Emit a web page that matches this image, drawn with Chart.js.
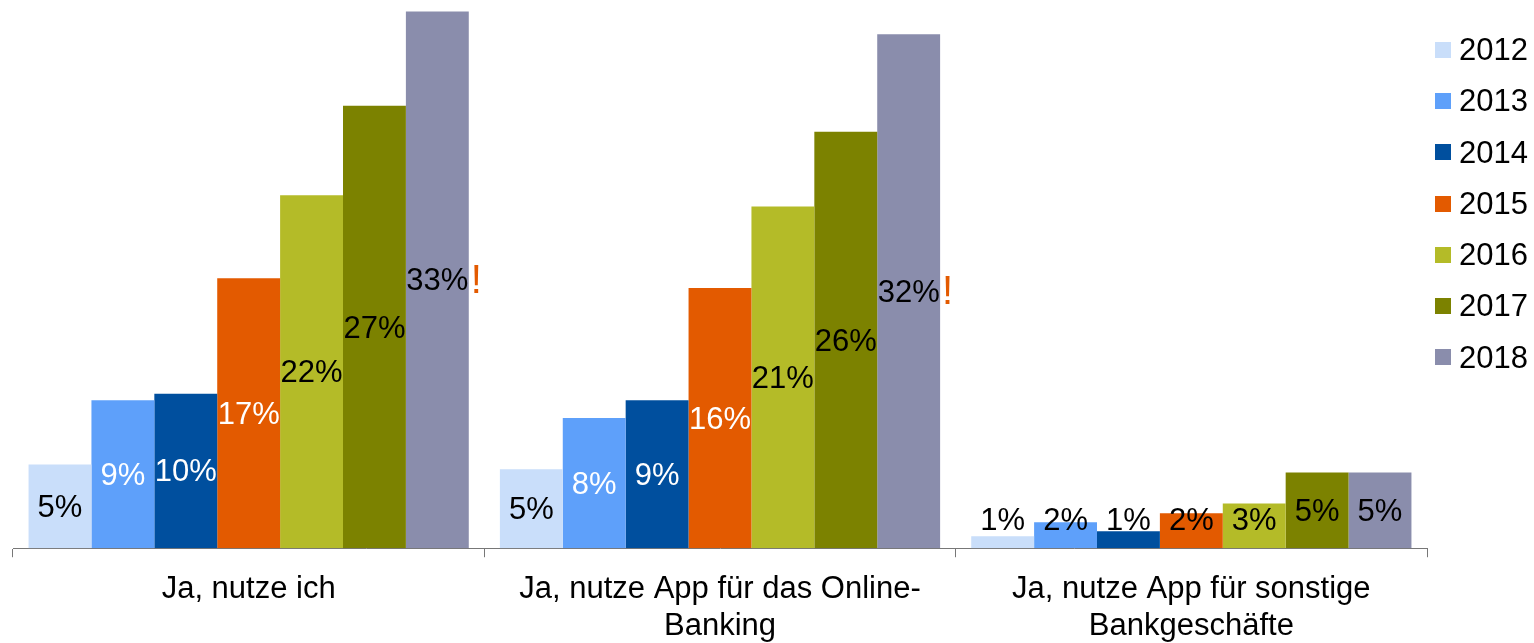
<!DOCTYPE html>
<html>
<head>
<meta charset="utf-8">
<script src="https://cdn.jsdelivr.net/npm/chart.js@4"></script>
<style>
  html, body { margin: 0; padding: 0; background: #fff; overflow: hidden; }
  #wrap { position: relative; width: 1534px; height: 643px; overflow: hidden; }
  #legend { position: absolute; left: 1435px; top: 24px; font-family: "Liberation Sans", Arial, sans-serif; font-size: 31px; color: #000; }
  .legend-item { height: 51.3px; line-height: 51.3px; display: flex; align-items: center; }
  .legend-box { width: 16px; height: 16px; margin-right: 8px; }
</style>
</head>
<body>
<div id="wrap">
  <canvas id="chart" width="1534" height="659"></canvas>
  <div id="legend"></div>
</div>
<script>
const categories = [
  ["Ja, nutze ich"],
  ["Ja, nutze App für das Online-", "Banking"],
  ["Ja, nutze App für sonstige", "Bankgeschäfte"],
];

const years = ["2012", "2013", "2014", "2015", "2016", "2017", "2018"];

const values2012 = [5.15, 4.85, 0.74];
const values2013 = [9.1, 8.0, 1.6];
const values2014 = [9.5, 9.1, 1.05];
const values2015 = [16.6, 16.0, 2.15];
const values2016 = [21.7, 21.0, 2.75];
const values2017 = [27.2, 25.6, 4.65];
const values2018 = [33.0, 31.6, 4.65];

const seriesValues = [values2012, values2013, values2014, values2015, values2016, values2017, values2018];

const colors = ["#C9DEFA", "#5EA0FA", "#004F9E", "#E35A00", "#B4BB28", "#7C8200", "#8A8DAC"];

// white label text for the darker bars
const whiteLabelYears = ["2013", "2014", "2015"];

// orange "!" after the 2018 bar
const exclamation = [true, true, false];

const FONT = '"Liberation Sans", Arial, sans-serif';

const labelPlugin = {
  id: "barLabels",
  afterDatasetsDraw(chart) {
    const ctx = chart.ctx;
    ctx.save();
    ctx.textAlign = "center";
    ctx.textBaseline = "middle";

    chart.data.datasets.forEach((dataset, i) => {
      const meta = chart.getDatasetMeta(i);
      meta.data.forEach((bar, j) => {
        const value = dataset.data[j];
        const center = (bar.y + bar.base) / 2 + 2;
        const y = Math.min(center, bar.base - 27);
        const inside = value > 4;

        ctx.font = "31px " + FONT;
        ctx.fillStyle =
          inside && whiteLabelYears.includes(dataset.label) ? "#FFFFFF" : "#000000";
        ctx.fillText(Math.round(value) + "%", bar.x, y);

        if (i === seriesValues.length - 1 && exclamation[j]) {
          ctx.font = "40px " + FONT;
          ctx.fillStyle = "#E35A00";
          ctx.textAlign = "left";
          ctx.fillText("!", bar.x + bar.width / 2 + 2, y);
          ctx.textAlign = "center";
        }
      });
    });

    ctx.restore();
  },
};

new Chart(document.getElementById("chart"), {
  type: "bar",
  data: {
    labels: categories,
    datasets: years.map((year, i) => ({
      label: year,
      data: seriesValues[i],
      backgroundColor: colors[i],
      borderWidth: 0,
      barPercentage: 1,
      categoryPercentage: 0.934,
    })),
  },
  options: {
    responsive: false,
    animation: false,
    layout: {
      padding: { left: 13, right: 107, top: 0, bottom: 0 },
    },
    scales: {
      x: {
        grid: {
          offset: true,
          drawOnChartArea: false,
          drawTicks: true,
          tickLength: 9,
          color: "#777777",
        },
        border: { display: true, color: "#777777", width: 1 },
        ticks: {
          color: "#000000",
          padding: 14,
          maxRotation: 0,
          autoSkip: false,
          font: { family: FONT, size: 31, lineHeight: 1.19 },
        },
      },
      y: {
        display: false,
        min: 0,
        max: 33.7,
      },
    },
    plugins: {
      legend: { display: false },
      tooltip: { enabled: false },
    },
  },
  plugins: [labelPlugin],
});

const legendElement = document.getElementById("legend");

years.forEach((year, i) => {
  legendElement.innerHTML += `
    <div class="legend-item">
      <span class="legend-box" style="background:${colors[i]}"></span>
      <span>${year}</span>
    </div>
  `;
});
</script>
</body>
</html>
